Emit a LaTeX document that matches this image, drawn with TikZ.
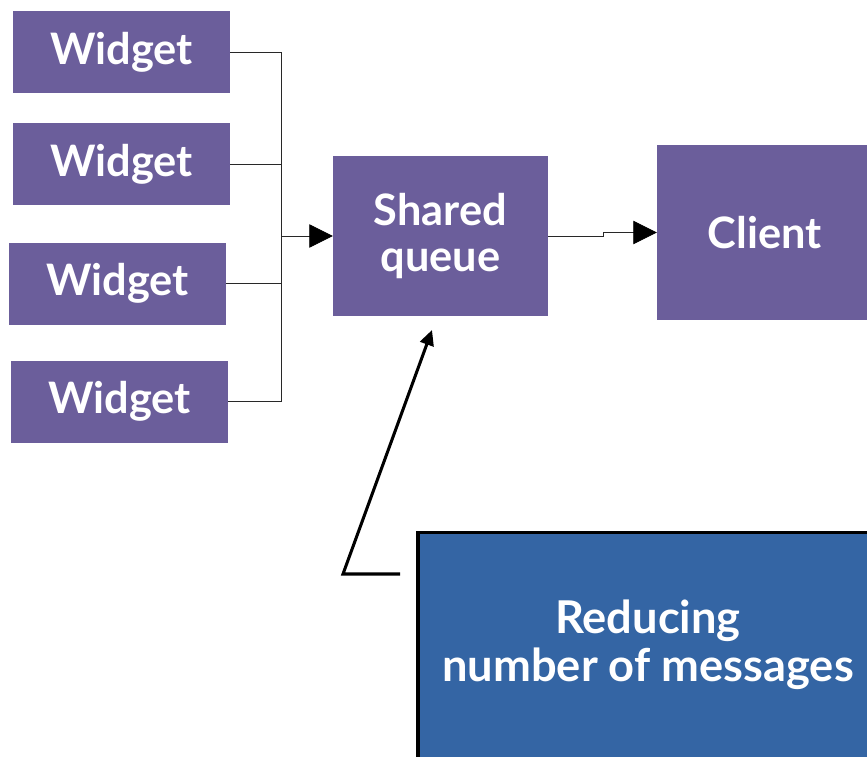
\documentclass[tikz,border=0pt]{standalone}
\usepackage{fontspec}
\setmainfont{Lato}
\usetikzlibrary{arrows.meta}

\definecolor{boxpurple}{RGB}{107,94,155}
\definecolor{noteblue}{RGB}{52,101,164}
\definecolor{wire}{RGB}{40,40,40}

\tikzset{
  widget/.style={fill=boxpurple, text=white, minimum width=6.51cm, minimum height=2.46cm,
    font=\bfseries\fontsize{37}{40}\selectfont},
  bigbox/.style={fill=boxpurple, text=white, minimum width=6.45cm, align=center,
    font=\bfseries\fontsize{37}{40}\selectfont},
  notebox/.style={fill=noteblue, draw=black, line width=2.6pt, minimum width=13.8cm, minimum height=7.2cm},
  notetext/.style={text=white, align=center, font=\bfseries\fontsize{38.6}{41}\selectfont},
  wireline/.style={draw=wire, line width=0.7pt},
  bigtip/.style={-{Triangle[length=20pt,width=20pt,color=black]}},
  callout/.style={line width=2.6pt, -{Triangle[length=13pt,width=12pt]}}
}

\begin{document}
\begin{tikzpicture}[x=0.03cm,y=-0.03cm]
    \useasboundingbox (0,0) rectangle (867,757);
    \node[widget](w1) at (121.5,52)  {Widget};
    \node[widget](w2) at (121.5,164)  {Widget};
    \node[widget](w3) at (117.5,283.5)  {Widget};
    \node[widget](w4) at (119.5,401.5)  {Widget};
    \node[bigbox, minimum height=4.8cm](q) at (440.5,236)  {Shared\\queue};
    \node[bigbox, minimum height=5.25cm](c) at (764.5,232.5)  {Client};
    \node[notebox, anchor=north](n) at (648,531)  {};
    \node[notetext](t) at (648,645)  {Reducing\\number of messages};
    \coordinate(j) at (281,236);
    \coordinate(e) at (400,574);
    \coordinate(k) at (343,574);
    \coordinate(p) at (432,330);
    \draw[wireline] (w1.east) -| (j);
    \draw[wireline] (w2.east) -| (j);
    \draw[wireline] (w3.east) -| (j);
    \draw[wireline] (w4.east) -| (j);
    \draw[wireline, bigtip] (j) to (q.west);
    \draw[wireline, bigtip] (q.east) -- ++(55,0) |- (c.west);
    \draw[callout] (e) -- (k) -- (p);
    \end{tikzpicture}
\end{document}
